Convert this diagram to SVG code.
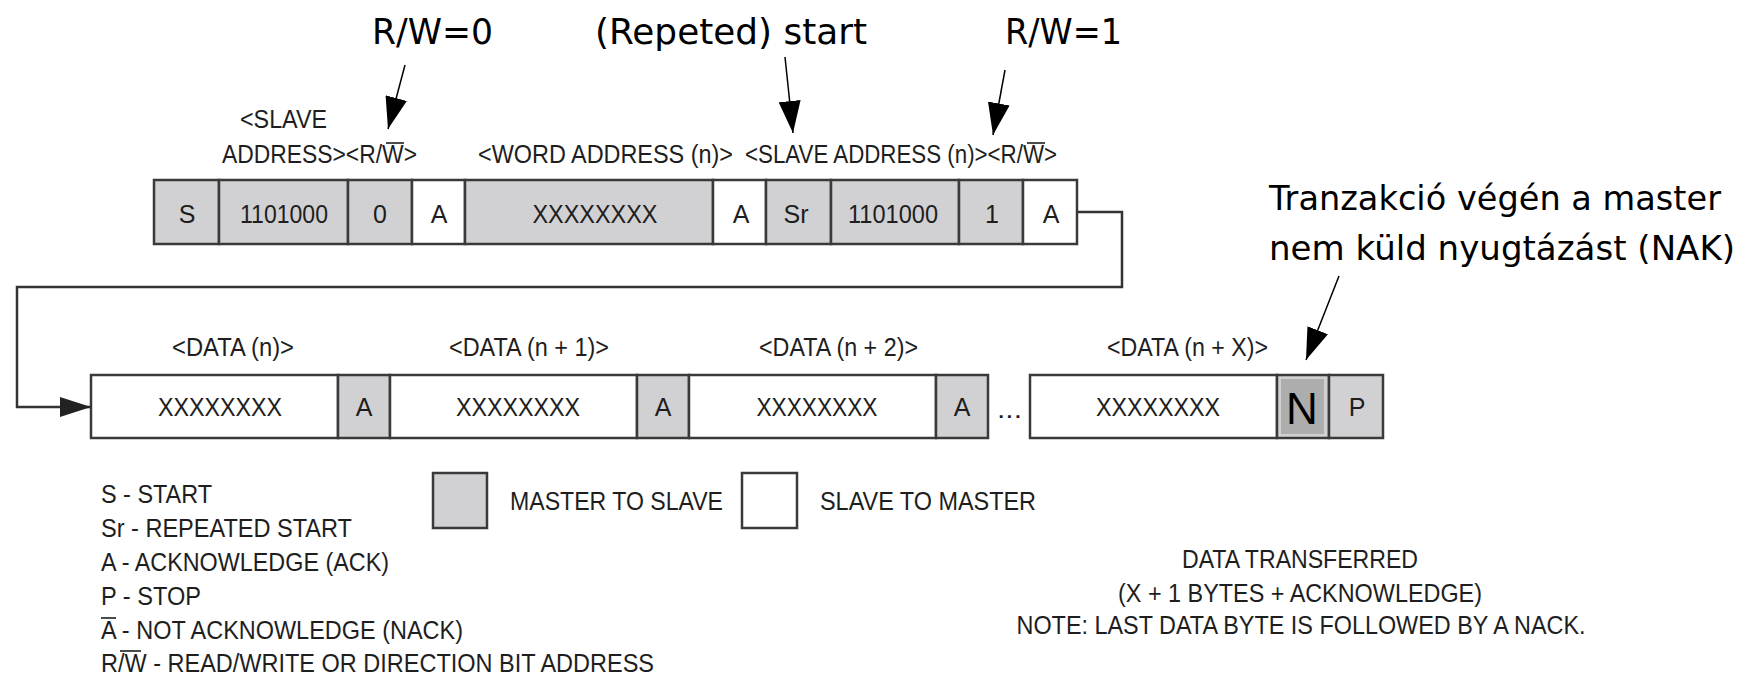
<svg xmlns="http://www.w3.org/2000/svg" width="1756" height="675" viewBox="0 0 1756 675">
<style>
.cell{stroke:#3a3a3a;stroke-width:2.5}
.g{fill:#d1d1d3}
.w{fill:#ffffff}
.t{font-family:"Liberation Sans Narrow","Liberation Sans",Arial,sans-serif;font-size:25px;fill:#1e1e1e}
.c{text-anchor:middle}
.hand{font-family:"DejaVu Sans",sans-serif;font-size:36px;fill:#000}
.hand2{font-family:"DejaVu Sans",sans-serif;font-size:34px;fill:#000}
.conn{fill:none;stroke:#333;stroke-width:2.5}
.ann{fill:none;stroke:#000;stroke-width:1.5}
.ol{stroke:#1e1e1e;stroke-width:1.6}
</style>
<defs>
<marker id="big" markerUnits="userSpaceOnUse" markerWidth="32" markerHeight="22" refX="32" refY="11" orient="auto">
<path d="M0,0 L32,11 L0,22 Z" fill="#000"/>
</marker>
<marker id="flow" markerUnits="userSpaceOnUse" markerWidth="31" markerHeight="20" refX="31" refY="10" orient="auto">
<path d="M0,0 L31,10 L0,20 Z" fill="#222"/>
</marker>
</defs>

<g id="annotations">
<text class="hand" x="372" y="44" textLength="121" lengthAdjust="spacingAndGlyphs">R/W=0</text>
<text class="hand" x="595" y="44" textLength="272" lengthAdjust="spacingAndGlyphs">(Repeted) start</text>
<text class="hand" x="1005" y="44" textLength="117" lengthAdjust="spacingAndGlyphs">R/W=1</text>
<text class="hand2" x="1269" y="210" textLength="452" lengthAdjust="spacingAndGlyphs">Tranzakció végén a master</text>
<text class="hand2" x="1269" y="260" textLength="466" lengthAdjust="spacingAndGlyphs">nem küld nyugtázást (NAK)</text>
</g>

<g id="labels">
<text class="t" x="240" y="128" textLength="87" lengthAdjust="spacingAndGlyphs">&lt;SLAVE</text>
<text class="t" x="222" y="163" textLength="195" lengthAdjust="spacingAndGlyphs">ADDRESS&gt;&lt;R/W&gt;</text>
<line class="ol" x1="386" y1="143" x2="404" y2="143"/>
<text class="t" x="478" y="163" textLength="255" lengthAdjust="spacingAndGlyphs">&lt;WORD ADDRESS (n)&gt;</text>
<text class="t" x="745" y="163" textLength="312" lengthAdjust="spacingAndGlyphs">&lt;SLAVE ADDRESS (n)&gt;&lt;R/W&gt;</text>
<line class="ol" x1="1027" y1="143" x2="1045" y2="143"/>
<text class="t" x="172" y="356" textLength="122" lengthAdjust="spacingAndGlyphs">&lt;DATA (n)&gt;</text>
<text class="t" x="449" y="356" textLength="160" lengthAdjust="spacingAndGlyphs">&lt;DATA (n + 1)&gt;</text>
<text class="t" x="759" y="356" textLength="159" lengthAdjust="spacingAndGlyphs">&lt;DATA (n + 2)&gt;</text>
<text class="t" x="1107" y="356" textLength="161" lengthAdjust="spacingAndGlyphs">&lt;DATA (n + X)&gt;</text>
</g>

<g id="top-row">
<g id="cell-S"><rect class="cell g" x="154" y="180" width="65" height="64"/><text class="t c" x="187" y="223">S</text></g>
<g id="cell-addr1"><rect class="cell g" x="219" y="180" width="129" height="64"/><text class="t c" x="284" y="223" textLength="88" lengthAdjust="spacingAndGlyphs">1101000</text></g>
<g id="cell-rw0"><rect class="cell g" x="348" y="180" width="64" height="64"/><text class="t c" x="380" y="223">0</text></g>
<g id="cell-A1"><rect class="cell w" x="412" y="180" width="53" height="64"/><text class="t c" x="439" y="223">A</text></g>
<g id="cell-word"><rect class="cell g" x="465" y="180" width="248" height="64"/><text class="t c" x="595" y="223" textLength="125" lengthAdjust="spacingAndGlyphs">XXXXXXXX</text></g>
<g id="cell-A2"><rect class="cell w" x="713" y="180" width="53" height="64"/><text class="t c" x="741" y="223">A</text></g>
<g id="cell-Sr"><rect class="cell g" x="766" y="180" width="65" height="64"/><text class="t c" x="796" y="223">Sr</text></g>
<g id="cell-addr2"><rect class="cell g" x="831" y="180" width="128" height="64"/><text class="t c" x="893" y="223" textLength="90" lengthAdjust="spacingAndGlyphs">1101000</text></g>
<g id="cell-rw1"><rect class="cell g" x="959" y="180" width="64" height="64"/><text class="t c" x="992" y="223">1</text></g>
<g id="cell-A3"><rect class="cell w" x="1023" y="180" width="54" height="64"/><text class="t c" x="1051" y="223">A</text></g>
</g>

<g id="bottom-row">
<g id="cell-d0"><rect class="cell w" x="91" y="375" width="247" height="63"/><text class="t c" x="220" y="416" textLength="124" lengthAdjust="spacingAndGlyphs">XXXXXXXX</text></g>
<g id="cell-dA0"><rect class="cell g" x="338" y="375" width="52" height="63"/><text class="t c" x="364" y="416">A</text></g>
<g id="cell-d1"><rect class="cell w" x="390" y="375" width="247" height="63"/><text class="t c" x="518" y="416" textLength="124" lengthAdjust="spacingAndGlyphs">XXXXXXXX</text></g>
<g id="cell-dA1"><rect class="cell g" x="637" y="375" width="52" height="63"/><text class="t c" x="663" y="416">A</text></g>
<g id="cell-d2"><rect class="cell w" x="689" y="375" width="247" height="63"/><text class="t c" x="817" y="416" textLength="121" lengthAdjust="spacingAndGlyphs">XXXXXXXX</text></g>
<g id="cell-dA2"><rect class="cell g" x="936" y="375" width="52" height="63"/><text class="t c" x="962" y="416">A</text></g>
<text class="t" x="997" y="418" textLength="25" lengthAdjust="spacingAndGlyphs">...</text>
<g id="cell-dX"><rect class="cell w" x="1030" y="375" width="247" height="63"/><text class="t c" x="1158" y="416" textLength="124" lengthAdjust="spacingAndGlyphs">XXXXXXXX</text></g>
<g id="cell-N"><rect class="cell g" x="1277" y="375" width="52" height="63"/><rect x="1281" y="379" width="43" height="55" fill="#adadad"/><text x="1302" y="424" text-anchor="middle" font-family="Liberation Sans,Arial,sans-serif" font-size="44" fill="#000">N</text></g>
<g id="cell-P"><rect class="cell g" x="1329" y="375" width="54" height="63"/><text class="t c" x="1357" y="416">P</text></g>
</g>

<g id="connectors">
<polyline class="conn" points="1077,212 1122,212 1122,287 17,287 17,407 91,407" marker-end="url(#flow)"/>
<line class="ann" x1="405" y1="65" x2="388" y2="129" marker-end="url(#big)"/>
<line class="ann" x1="785" y1="57" x2="793" y2="133" marker-end="url(#big)"/>
<line class="ann" x1="1005" y1="70" x2="993" y2="135" marker-end="url(#big)"/>
<line class="ann" x1="1339" y1="276" x2="1306" y2="360" marker-end="url(#big)"/>
</g>

<g id="legend">
<text class="t" x="101" y="503" textLength="111" lengthAdjust="spacingAndGlyphs">S - START</text>
<text class="t" x="101" y="537" textLength="251" lengthAdjust="spacingAndGlyphs">Sr - REPEATED START</text>
<text class="t" x="101" y="571" textLength="288" lengthAdjust="spacingAndGlyphs">A - ACKNOWLEDGE (ACK)</text>
<text class="t" x="101" y="605" textLength="100" lengthAdjust="spacingAndGlyphs">P - STOP</text>
<text class="t" x="101" y="639" textLength="362" lengthAdjust="spacingAndGlyphs">A - NOT ACKNOWLEDGE (NACK)</text>
<line class="ol" x1="101" y1="618" x2="116" y2="618"/>
<text class="t" x="101" y="672" textLength="553" lengthAdjust="spacingAndGlyphs">R/W - READ/WRITE OR DIRECTION BIT ADDRESS</text>
<line class="ol" x1="120" y1="651" x2="141" y2="651"/>
<g id="key-master"><rect class="cell g" x="433" y="473" width="54" height="55"/><text class="t" x="510" y="510" textLength="213" lengthAdjust="spacingAndGlyphs">MASTER TO SLAVE</text></g>
<g id="key-slave"><rect class="cell w" x="742" y="473" width="55" height="55"/><text class="t" x="820" y="510" textLength="216" lengthAdjust="spacingAndGlyphs">SLAVE TO MASTER</text></g>
<text class="t c" x="1300" y="568" textLength="236" lengthAdjust="spacingAndGlyphs">DATA TRANSFERRED</text>
<text class="t c" x="1300" y="602" textLength="364" lengthAdjust="spacingAndGlyphs">(X + 1 BYTES + ACKNOWLEDGE)</text>
<text class="t c" x="1301" y="634" textLength="569" lengthAdjust="spacingAndGlyphs">NOTE: LAST DATA BYTE IS FOLLOWED BY A NACK.</text>
</g>
</svg>
